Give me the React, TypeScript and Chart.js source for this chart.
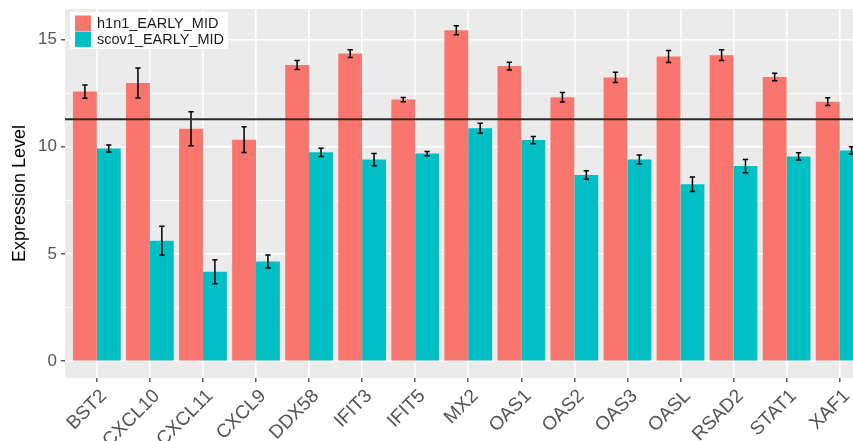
import React, { useEffect, useRef } from "react";
import { Chart, registerables } from "chart.js";

Chart.register(...registerables);

const categories = ["BST2", "CXCL10", "CXCL11", "CXCL9", "DDX58", "IFIT3", "IFIT5", "MX2", "OAS1", "OAS2", "OAS3", "OASL", "RSAD2", "STAT1", "XAF1"];
const seriesNames = ["h1n1_EARLY_MID", "scov1_EARLY_MID"];
const h1n1 = [12.57, 12.97, 10.84, 10.33, 13.81, 14.34, 12.2, 15.43, 13.76, 12.31, 13.23, 14.21, 14.27, 13.25, 12.1];
const h1n1Err = [0.31, 0.7, 0.79, 0.6, 0.21, 0.18, 0.1, 0.21, 0.18, 0.22, 0.24, 0.28, 0.25, 0.18, 0.18];
const scov1 = [9.92, 5.62, 4.17, 4.65, 9.74, 9.4, 9.68, 10.86, 10.31, 8.68, 9.4, 8.25, 9.1, 9.55, 9.83];
const scov1Err = [0.16, 0.67, 0.56, 0.3, 0.19, 0.29, 0.1, 0.23, 0.17, 0.2, 0.21, 0.34, 0.31, 0.17, 0.17];
const threshold = 11.28;
const yTicks = [0, 2.5, 5, 7.5, 10, 12.5, 15];
const colors = ["#F8766D", "#00BFC4"];

const FONT = "'Liberation Sans', Arial, Helvetica, sans-serif";

export default function App() {
  const ref = useRef<HTMLCanvasElement | null>(null);

  useEffect(() => {
    if (!ref.current) return;
    const errs = [h1n1Err, scov1Err];

    const panelBg = {
      id: "panelBg",
      beforeDraw(chart: any) {
        const { ctx, chartArea: a } = chart;
        ctx.save();
        ctx.fillStyle = "#ffffff";
        ctx.fillRect(0, 0, chart.width, chart.height);
        ctx.fillStyle = "#EBEBEB";
        ctx.fillRect(a.left, a.top, a.right - a.left, a.bottom - a.top);
        ctx.restore();
      },
    };

    const errorBars = {
      id: "errorBars",
      afterDatasetsDraw(chart: any) {
        const { ctx } = chart;
        const y = chart.scales.y;
        const x = chart.scales.x;
        const capHalf = (x.getPixelForValue(1) - x.getPixelForValue(0)) * 0.05;
        ctx.save();
        ctx.strokeStyle = "#000000";
        ctx.lineWidth = 1.5;
        chart.data.datasets.forEach((ds: any, di: number) => {
          const meta = chart.getDatasetMeta(di);
          meta.data.forEach((bar: any, i: number) => {
            const v = ds.data[i].y;
            const e = errs[di][i];
            const top = y.getPixelForValue(v + e);
            const bot = y.getPixelForValue(v - e);
            ctx.beginPath();
            ctx.moveTo(bar.x, top);
            ctx.lineTo(bar.x, bot);
            ctx.moveTo(bar.x - capHalf, top);
            ctx.lineTo(bar.x + capHalf, top);
            ctx.moveTo(bar.x - capHalf, bot);
            ctx.lineTo(bar.x + capHalf, bot);
            ctx.stroke();
          });
        });
        const hy = y.getPixelForValue(threshold);
        ctx.strokeStyle = "#2b2b2b";
        ctx.lineWidth = 1.8;
        ctx.beginPath();
        ctx.moveTo(chart.chartArea.left, hy);
        ctx.lineTo(chart.chartArea.right, hy);
        ctx.stroke();
        ctx.restore();
      },
    };

    const legendBox = {
      id: "legendBox",
      afterDraw(chart: any) {
        const { ctx, chartArea: a } = chart;
        ctx.save();
        ctx.font = `14.5px ${FONT}`;
        const textW = Math.max(...seriesNames.map((s) => ctx.measureText(s).width));
        const bx = a.left + 5;
        const by = a.top + 3;
        const keyW = 16;
        const keyH = 15.5;
        const pad = 5;
        const w = pad + keyW + 6 + textW + 4;
        const h = 3.5 + keyH * 2 + 0.5 + 2;
        ctx.fillStyle = "#ffffff";
        ctx.fillRect(bx, by, w, h);
        seriesNames.forEach((s, i) => {
          const ky = by + 3.5 + i * (keyH + 0.5);
          ctx.fillStyle = colors[i];
          ctx.fillRect(bx + pad, ky, keyW, keyH);
          ctx.fillStyle = "#1a1a1a";
          ctx.textBaseline = "middle";
          ctx.textAlign = "left";
          ctx.fillText(s, bx + pad + keyW + 6, ky + keyH / 2 + 0.5);
        });
        ctx.restore();
      },
    };

    const chart = new Chart(ref.current, {
      type: "bar",
      data: {
        datasets: [
          {
            label: seriesNames[0],
            data: h1n1.map((v, i) => ({ x: i, y: v })),
            backgroundColor: colors[0],
            categoryPercentage: 0.9,
            barPercentage: 1.0,
          },
          {
            label: seriesNames[1],
            data: scov1.map((v, i) => ({ x: i, y: v })),
            backgroundColor: colors[1],
            categoryPercentage: 0.9,
            barPercentage: 1.0,
          },
        ],
      },
      options: {
        animation: false,
        responsive: true,
        maintainAspectRatio: false,
        layout: { padding: { top: 9, right: 8.5, left: 0, bottom: 0 } },
        plugins: {
          legend: { display: false },
          tooltip: { enabled: false },
        },
        scales: {
          x: {
            type: "linear",
            min: -0.6,
            max: 14.6,
            offset: false,
            afterBuildTicks: (scale: any) => {
              scale.ticks = categories.map((_, i) => ({ value: i }));
            },
            afterFit: (scale: any) => {
              scale.height = 63;
              scale.paddingLeft = 0;
              scale.paddingRight = 0;
            },
            grid: {
              offset: false,
              color: "#ffffff",
              lineWidth: 1.6,
              drawTicks: true,
              tickLength: 4,
              tickColor: "#333333",
              tickWidth: 1.2,
            },
            border: { display: false },
            ticks: {
              autoSkip: false,
              minRotation: 45,
              maxRotation: 45,
              padding: 3,
              labelOffset: 7,
              color: "#555555",
              font: { family: FONT, size: 19 },
              callback: (v: any) => categories[Math.round(Number(v))] ?? "",
            },
          },
          y: {
            min: -0.78,
            max: 16.42,
            afterBuildTicks: (scale: any) => {
              scale.ticks = yTicks.map((v) => ({ value: v }));
            },
            afterFit: (scale: any) => {
              scale.width = 65;
              scale.paddingTop = 0;
              scale.paddingBottom = 0;
            },
            grid: {
              color: "#ffffff",
              lineWidth: (c: any) => (c.tick && c.tick.value % 5 === 0 ? 1.6 : 0.8),
              drawTicks: true,
              tickLength: 4,
              tickWidth: 1.2,
              tickColor: (c: any) => (c.tick && c.tick.value % 5 === 0 ? "#333333" : "rgba(0,0,0,0)"),
            },
            border: { display: false },
            ticks: {
              padding: 4,
              color: "#555555",
              font: { family: FONT, size: 17 },
              callback: (v: any) => (Number(v) % 5 === 0 ? String(v) : ""),
            },
            title: {
              display: true,
              text: "Expression Level",
              color: "#000000",
              font: { family: FONT, size: 18 },
              padding: { top: 9.2, bottom: 0 },
            },
          },
        },
      },
      plugins: [panelBg, errorBars, legendBox],
    } as any);

    return () => chart.destroy();
  }, []);

  return (
    <div style={{ position: "absolute", left: 0, top: 0, width: 853, height: 441, overflow: "hidden", background: "#fff" }}>
      <div style={{ position: "relative", width: 880, height: 441 }}>
        <canvas ref={ref} />
      </div>
    </div>
  );
}
